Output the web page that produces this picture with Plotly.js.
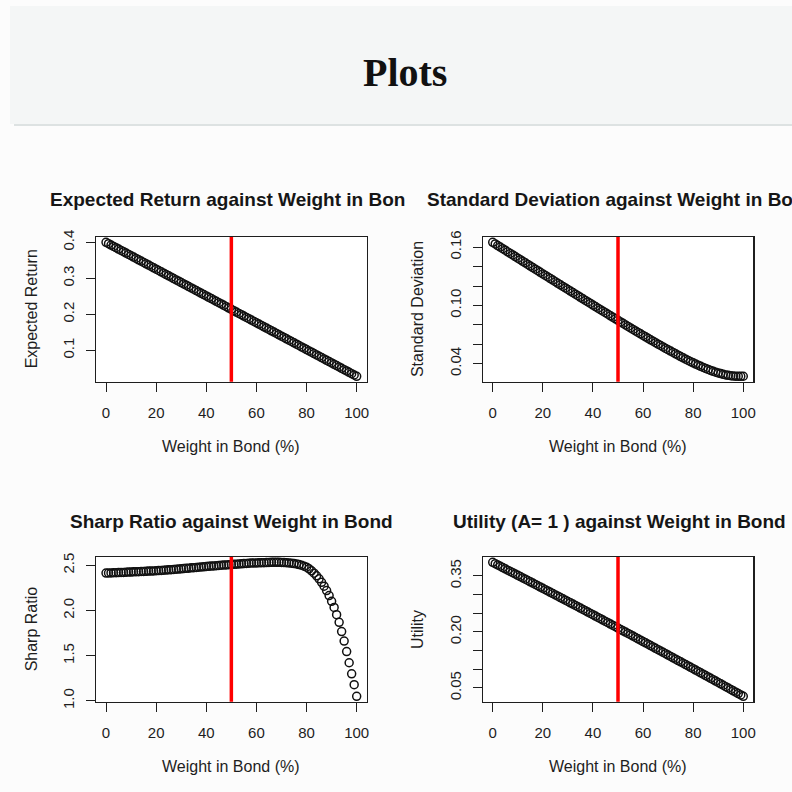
<!DOCTYPE html>
<html>
<head>
<meta charset="utf-8">
<script src="https://cdn.plot.ly/plotly-3.0.1.min.js"></script>
<style>
html,body{margin:0;padding:0;background:#fcfcfc;}
#chart{width:792px;height:792px;}
</style>
</head>
<body>
<div id="chart"></div>
<script>
// ---------------- DATA ----------------
const weightInBond = [0,1,2,3,4,5,6,7,8,9,10,11,12,13,14,15,16,17,18,19,20,21,22,23,24,25,26,27,28,29,30,31,32,33,34,35,36,37,38,39,40,41,42,43,44,45,46,47,48,49,50,51,52,53,54,55,56,57,58,59,60,61,62,63,64,65,66,67,68,69,70,71,72,73,74,75,76,77,78,79,80,81,82,83,84,85,86,87,88,89,90,91,92,93,94,95,96,97,98,99,100];

const expectedReturn = [0.4000,0.3963,0.3926,0.3888,0.3851,0.3814,0.3777,0.3740,0.3702,0.3665,
0.3628,0.3591,0.3554,0.3516,0.3479,0.3442,0.3405,0.3368,0.3330,0.3293,
0.3256,0.3219,0.3182,0.3144,0.3107,0.3070,0.3033,0.2996,0.2958,0.2921,
0.2884,0.2847,0.2810,0.2772,0.2735,0.2698,0.2661,0.2624,0.2586,0.2549,
0.2512,0.2475,0.2438,0.2400,0.2363,0.2326,0.2289,0.2252,0.2214,0.2177,
0.2140,0.2103,0.2066,0.2028,0.1991,0.1954,0.1917,0.1880,0.1842,0.1805,
0.1768,0.1731,0.1694,0.1656,0.1619,0.1582,0.1545,0.1508,0.1470,0.1433,
0.1396,0.1359,0.1322,0.1284,0.1247,0.1210,0.1173,0.1136,0.1098,0.1061,
0.1024,0.0987,0.0950,0.0912,0.0875,0.0838,0.0801,0.0764,0.0726,0.0689,
0.0652,0.0615,0.0578,0.0540,0.0503,0.0466,0.0429,0.0392,0.0354,0.0317,
0.0280];

const standardDeviation = [0.1650,0.1634,0.1617,0.1601,0.1585,0.1569,0.1552,0.1536,0.1520,0.1504,
0.1487,0.1471,0.1455,0.1439,0.1422,0.1406,0.1390,0.1374,0.1358,0.1341,
0.1325,0.1309,0.1293,0.1277,0.1261,0.1244,0.1228,0.1212,0.1196,0.1180,
0.1164,0.1148,0.1132,0.1116,0.1100,0.1084,0.1068,0.1052,0.1036,0.1020,
0.1004,0.0988,0.0972,0.0956,0.0941,0.0925,0.0909,0.0893,0.0877,0.0862,
0.0846,0.0830,0.0815,0.0799,0.0784,0.0768,0.0753,0.0737,0.0722,0.0707,
0.0691,0.0676,0.0661,0.0646,0.0631,0.0616,0.0601,0.0587,0.0572,0.0557,
0.0543,0.0529,0.0515,0.0501,0.0487,0.0473,0.0460,0.0446,0.0433,0.0420,
0.0408,0.0396,0.0384,0.0372,0.0361,0.0350,0.0340,0.0330,0.0321,0.0312,
0.0304,0.0297,0.0290,0.0284,0.0279,0.0275,0.0272,0.0270,0.0269,0.0269,
0.0270];

const sharpRatio = [2.415,2.416,2.417,2.419,2.420,2.421,2.422,2.423,2.425,2.426,
2.427,2.429,2.430,2.431,2.433,2.434,2.435,2.437,2.438,2.439,
2.441,2.443,2.445,2.447,2.449,2.451,2.453,2.456,2.458,2.460,
2.463,2.465,2.468,2.470,2.473,2.475,2.478,2.480,2.483,2.485,
2.488,2.490,2.493,2.495,2.497,2.500,2.502,2.504,2.506,2.508,
2.510,2.512,2.514,2.516,2.518,2.520,2.522,2.524,2.526,2.527,
2.528,2.529,2.530,2.531,2.532,2.533,2.534,2.534,2.534,2.534,
2.533,2.532,2.530,2.528,2.525,2.521,2.516,2.510,2.502,2.492,
2.480,2.462,2.440,2.414,2.385,2.352,2.313,2.270,2.222,2.166,
2.103,2.035,1.955,1.870,1.768,1.662,1.546,1.422,1.300,1.179,
1.050];

const utility = [0.3864,0.3830,0.3795,0.3760,0.3725,0.3691,0.3656,0.3622,0.3587,0.3552,
0.3517,0.3483,0.3448,0.3413,0.3378,0.3343,0.3308,0.3273,0.3238,0.3203,
0.3168,0.3133,0.3098,0.3063,0.3028,0.2993,0.2957,0.2922,0.2887,0.2852,
0.2816,0.2781,0.2746,0.2710,0.2675,0.2639,0.2604,0.2568,0.2533,0.2497,
0.2462,0.2426,0.2390,0.2355,0.2319,0.2283,0.2248,0.2212,0.2176,0.2140,
0.2104,0.2068,0.2032,0.1996,0.1961,0.1925,0.1889,0.1852,0.1816,0.1780,
0.1744,0.1708,0.1672,0.1636,0.1599,0.1563,0.1527,0.1490,0.1454,0.1418,
0.1381,0.1345,0.1308,0.1272,0.1235,0.1199,0.1162,0.1126,0.1089,0.1052,
0.1016,0.0979,0.0942,0.0906,0.0869,0.0832,0.0795,0.0758,0.0721,0.0684,
0.0647,0.0610,0.0573,0.0536,0.0499,0.0462,0.0425,0.0388,0.0351,0.0314,
0.0276];

const chosenWeight = 50;

const xTickVals = [0,20,40,60,80,100];
const xTickText = ['0','20','40','60','80','100'];
const y1TickVals = [0.1,0.2,0.3,0.4];
const y1TickText = ['0.1','0.2','0.3','0.4'];
const y2TickVals = [0.04,0.06,0.08,0.10,0.12,0.14,0.16];
const y2TickText = ['0.04','','','0.10','','','0.16'];
const y3TickVals = [1.0,1.5,2.0,2.5];
const y3TickText = ['1.0','1.5','2.0','2.5'];
const y4TickVals = [0.05,0.10,0.15,0.20,0.25,0.30,0.35];
const y4TickText = ['0.05','','','0.20','','','0.35'];

const panelTitles = ['Expected Return against Weight in Bon',
                     'Standard Deviation against Weight in Bo',
                     'Sharp Ratio against Weight in Bond',
                     'Utility (A= 1 ) against Weight in Bond'];
const yLabels = ['Expected Return','Standard Deviation','Sharp Ratio','Utility'];
const xLabel = 'Weight in Bond (%)';
const pageHeading = 'Plots';

// ---------------- LAYOUT HELPERS ----------------
const W = 792, H = 792;
const fx = p => p / W;
const fy = p => 1 - p / H;

function padRange(arr) {              // R-style 4% padding
  const mn = Math.min(...arr), mx = Math.max(...arr);
  const d = (mx - mn) * 0.04;
  return [mn - d, mx + d];
}

const INK = '#1e1e1e';
const FONT = 'Liberation Sans, Arial, sans-serif';

// panel boxes in pixels: [left, right, top, bottom]
const boxes = [
  [96, 366.7, 237, 381.7],
  [482.7, 753.3, 237, 381.7],
  [96, 366.7, 557, 701.7],
  [482.7, 753.3, 557, 701.7]
];

const series = [expectedReturn, standardDeviation, sharpRatio, utility];
const yTicks = [[y1TickVals,y1TickText],[y2TickVals,y2TickText],[y3TickVals,y3TickText],[y4TickVals,y4TickText]];

const traces = [];
const layout = {
  width: W, height: H,
  margin: {l:0, r:0, t:0, b:0},
  paper_bgcolor: '#fcfcfc',
  plot_bgcolor: '#ffffff',
  showlegend: false,
  font: {family: FONT, color: INK},
  shapes: [],
  annotations: []
};

// header band and divider
layout.shapes.push({type:'rect', xref:'paper', yref:'paper', x0:fx(10), x1:1, y0:fy(124), y1:fy(6),
  fillcolor:'#f4f6f6', line:{width:0}, layer:'below'});
layout.shapes.push({type:'line', xref:'paper', yref:'paper', x0:fx(14), x1:1, y0:fy(125), y1:fy(125),
  line:{color:'#dde2e2', width:2}, layer:'below'});
layout.annotations.push({xref:'paper', yref:'paper', x:fx(405), y:fy(72), text:'<b>'+pageHeading+'</b>',
  showarrow:false, xanchor:'center', yanchor:'middle',
  font:{family:'Liberation Serif, Times New Roman, serif', size:40, color:'#111'}});

for (let i = 0; i < 4; i++) {
  const n = i + 1;
  const xa = n === 1 ? 'xaxis' : 'xaxis' + n;
  const ya = n === 1 ? 'yaxis' : 'yaxis' + n;
  const xr = n === 1 ? 'x' : 'x' + n;
  const yr = n === 1 ? 'y' : 'y' + n;
  const [L, R, T, B] = boxes[i];

  traces.push({
    type: 'scatter', mode: 'markers',
    x: weightInBond, y: series[i],
    xaxis: xr, yaxis: yr,
    marker: {symbol: 'circle-open', size: 8, color: '#111', line: {width: 1.5}},
    hoverinfo: 'skip'
  });

  layout[xa] = {
    domain: [fx(L), fx(R)], anchor: yr, range: padRange(weightInBond),
    tickmode: 'array', tickvals: xTickVals, ticktext: xTickText,
    ticks: 'outside', ticklen: 9, tickwidth: 1, tickcolor: INK,
    showline: true, mirror: true, linecolor: INK, linewidth: 1.2,
    showgrid: false, zeroline: false,
    tickfont: {size: 15, color: INK, family: FONT},
    ticklabelstandoff: 8
  };
  layout[ya] = {
    domain: [fy(B), fy(T)], anchor: xr, range: padRange(series[i]),
    tickmode: 'array', tickvals: yTicks[i][0], ticktext: yTicks[i][1],
    ticks: 'outside', ticklen: 9, tickwidth: 1, tickcolor: INK,
    showline: true, mirror: true, linecolor: INK, linewidth: 1.2,
    showgrid: false, zeroline: false, tickangle: -90,
    tickfont: {size: 15, color: INK, family: FONT},
    ticklabelstandoff: 6
  };

  // red vertical line at the chosen weight
  layout.shapes.push({type:'line', xref: xr, yref: yr + ' domain', x0: chosenWeight, x1: chosenWeight,
    y0: 0, y1: 1, line: {color: '#ff0000', width: 3.5}, layer: 'above'});

  // x label
  layout.annotations.push({xref:'paper', yref:'paper', x: fx((L+R)/2), y: fy(B + 65),
    text: xLabel, showarrow:false, xanchor:'center', yanchor:'middle',
    font:{size:16, color:INK, family:FONT}});
  // y label
  layout.annotations.push({xref:'paper', yref:'paper', x: fx(L - 65), y: fy((T+B)/2),
    text: yLabels[i], showarrow:false, xanchor:'center', yanchor:'middle', textangle:-90,
    font:{size:16, color:INK, family:FONT}});
}

// panel titles
const titlePos = [
  {x: 48, y: 199, anchor: 'left'},
  {x: 425, y: 199, anchor: 'left'},
  {x: 231.3, y: 521, anchor: 'center'},
  {x: 619, y: 521, anchor: 'center'}
];
for (let i = 0; i < 4; i++) {
  layout.annotations.push({xref:'paper', yref:'paper', x: fx(titlePos[i].x), y: fy(titlePos[i].y),
    text: '<b>' + panelTitles[i] + '</b>', showarrow:false, xanchor: titlePos[i].anchor, yanchor:'middle',
    font:{size:19, color:'#161616', family:FONT}});
}

Plotly.newPlot('chart', traces, layout, {staticPlot: true, displayModeBar: false});
</script>
</body>
</html>
